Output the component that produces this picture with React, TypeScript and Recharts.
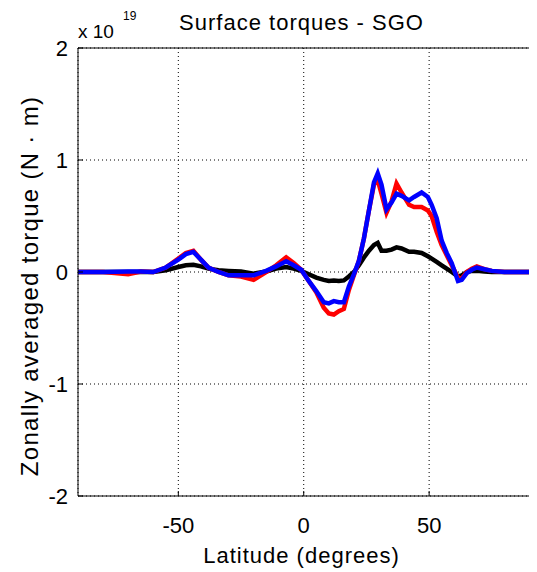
import { LineChart, Line, XAxis, YAxis, CartesianGrid, ReferenceLine } from "recharts";

// latitude (degrees) shared by all three curves
const LATITUDES = [
  -90, -80, -70, -65, -60, -55, -50, -47, -44, -41, -38, -34, -30, -25, -20, -15, -11, -7, -4, -1,
  2, 5, 8, 10, 12, 14, 16, 18, 20, 22, 24, 26, 28, 29.5, 31, 33, 35, 37, 39, 42, 44, 47, 49.5, 51,
  53, 55, 57, 59, 61.5, 63, 65, 67, 69, 72, 75, 80, 90, 95,
];

// torque values, in units of 1e19 N·m
const TORQUE_RED = [
  0, 0, -0.02, 0.005, 0, 0.04, 0.12, 0.17, 0.19, 0.11, 0.04, 0, -0.03, -0.04, -0.07, 0, 0.06, 0.13, 0.08, 0.02,
  -0.08, -0.18, -0.32, -0.37, -0.38, -0.35, -0.33, -0.16, -0.03, 0.1, 0.3, 0.55, 0.78, 0.82, 0.7, 0.53, 0.63, 0.79, 0.71, 0.6,
  0.58, 0.58, 0.55, 0.5, 0.36, 0.24, 0.15, 0.06, -0.05, -0.06, 0, 0.03, 0.05, 0.025, 0.01, 0, 0, 0,
];

const TORQUE_BLUE = [
  0, 0, 0.005, 0.005, 0, 0.04, 0.11, 0.16, 0.18, 0.11, 0.04, 0, -0.03, -0.03, -0.03, 0.01, 0.05, 0.095, 0.06, 0.02,
  -0.08, -0.17, -0.27, -0.28, -0.26, -0.27, -0.27, -0.13, -0.02, 0.1, 0.3, 0.55, 0.8, 0.88, 0.78, 0.56, 0.62, 0.7, 0.68, 0.64,
  0.67, 0.71, 0.67, 0.6, 0.48, 0.28, 0.17, 0.08, -0.08, -0.07, -0.01, 0.02, 0.04, 0.025, 0.01, 0, 0, 0,
];

const TORQUE_BLACK = [
  0, 0, 0, 0, 0, 0.015, 0.045, 0.06, 0.065, 0.05, 0.03, 0.015, 0.01, 0.005, -0.015, 0.005, 0.03, 0.045, 0.03, 0.01,
  -0.02, -0.05, -0.07, -0.08, -0.075, -0.08, -0.075, -0.04, 0, 0.06, 0.13, 0.19, 0.24, 0.26, 0.19, 0.19, 0.2, 0.22, 0.21, 0.18,
  0.18, 0.17, 0.14, 0.12, 0.09, 0.06, 0.03, 0, -0.04, -0.03, 0, 0.01, 0.01, 0.005, 0, 0, 0, 0,
];

const X_TICKS = [-50, 0, 50];
const Y_TICKS = [-2, -1, 0, 1, 2];

const data = LATITUDES.map((lat, i) => ({
  lat,
  red: TORQUE_RED[i],
  blue: TORQUE_BLUE[i],
  black: TORQUE_BLACK[i],
}));

const FONT = "'Liberation Sans', Arial, Helvetica, sans-serif";

function XTick(props: any) {
  const { x, y, payload } = props;
  return (
    <g>
      <line x1={x} y1={y} x2={x} y2={y - 5} stroke="#000" />
      <text x={x} y={y + 37} textAnchor="middle" fontSize={22} fontFamily={FONT} fill="#000">
        {payload.value}
      </text>
    </g>
  );
}

function YTick(props: any) {
  const { x, y, payload } = props;
  return (
    <g>
      <line x1={x} y1={y} x2={x + 5} y2={y} stroke="#000" />
      <text x={x - 10} y={y + 8} textAnchor="end" fontSize={22} fontFamily={FONT} fill="#000">
        {payload.value}
      </text>
    </g>
  );
}

export default function App() {
  return (
    <div style={{ position: "relative", width: 529, height: 564, overflow: "hidden", background: "#fff" }}>
      <LineChart
        width={580}
        height={564}
        data={data}
        margin={{ top: 40, right: 46, bottom: 0, left: 0 }}
      >
        <CartesianGrid stroke="#000" strokeDasharray="1 3" />
        <XAxis
          dataKey="lat"
          type="number"
          domain={[-90, 95]}
          ticks={X_TICKS}
          height={76}
          tickSize={0}
          tickMargin={0}
          tickLine={false}
          axisLine={{ stroke: "#000" }}
          tick={<XTick />}
          interval={0}
        />
        <YAxis
          type="number"
          domain={[-2, 2]}
          ticks={Y_TICKS}
          width={70}
          tickSize={0}
          tickMargin={0}
          tickLine={false}
          axisLine={{ stroke: "#000" }}
          tick={<YTick />}
          interval={0}
        />
        <ReferenceLine y={2} stroke="#000" />
        <Line dataKey="black" stroke="#000" strokeWidth={4.5} dot={false} isAnimationActive={false} />
        <Line dataKey="red" stroke="#ff0000" strokeWidth={4.5} dot={false} isAnimationActive={false} />
        <Line dataKey="blue" stroke="#0000ff" strokeWidth={4.5} dot={false} isAnimationActive={false} />
      </LineChart>
      <svg
        width={529}
        height={564}
        style={{ position: "absolute", left: 0, top: 0, pointerEvents: "none" }}
        fontFamily={FONT}
      >
        <text x={293.5} y={22} textAnchor="middle" fontSize={22} letterSpacing={1}>
          Surface torques - SGO
        </text>
        <text x={70} y={30} fontSize={19}>
          x 10
        </text>
        <text x={115} y={12} fontSize={12}>
          19
        </text>
        <text x={293.5} y={555} textAnchor="middle" fontSize={22} letterSpacing={1}>
          Latitude (degrees)
        </text>
        <text
          transform="translate(30, 278) rotate(-90)"
          textAnchor="middle"
          fontSize={24}
          letterSpacing={1.3}
        >
          Zonally averaged torque (N · m)
        </text>
      </svg>
    </div>
  );
}
